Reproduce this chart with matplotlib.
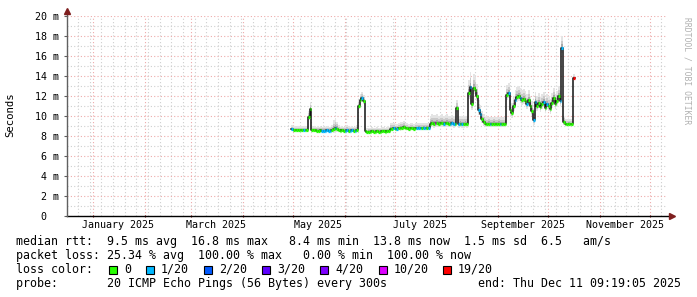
import matplotlib
matplotlib.use("Agg")
import matplotlib.pyplot as plt
import matplotlib.dates as mdates
from matplotlib.patches import Rectangle
import numpy as np
import pandas as pd

# time window of the graph (360 days ending at "end")
end_time = pd.Timestamp("2025-12-11 09:19:05")
start_time = end_time - pd.Timedelta(days=360)

# one median rtt value (ms) per day, starting 2025-04-30
first_day = "2025-04-30"
median_ms = [
    8.7, 8.6, 8.6, 8.6, 8.6, 8.6, 8.6, 8.6, 8.6, 8.6,
    9.9, 10.7, 8.6, 8.6, 8.6, 8.55, 8.55, 8.6, 8.55, 8.55,
    8.55, 8.6, 8.55, 8.55, 8.6, 8.7, 8.8, 8.75, 8.6, 8.55,
    8.6, 8.55, 8.55, 8.6, 8.55, 8.55, 8.6, 8.55, 8.55, 8.6,
    11.0, 11.6, 11.8, 11.5, 8.5, 8.4, 8.45, 8.45, 8.5, 8.45,
    8.45, 8.5, 8.45, 8.45, 8.5, 8.5, 8.45, 8.5, 8.5, 8.75,
    8.75, 8.8, 8.75, 8.75, 8.8, 8.8, 8.85, 8.9, 8.8, 8.8,
    8.75, 8.8, 8.8, 8.75, 8.8, 8.8, 8.85, 8.8, 8.8, 8.85,
    8.8, 8.85, 8.85, 9.25, 9.3, 9.25, 9.3, 9.3, 9.25, 9.3,
    9.3, 9.25, 9.3, 9.3, 9.25, 9.25, 9.3, 9.2, 9.25, 10.8,
    9.2, 9.25, 9.2, 9.2, 9.25, 9.2, 12.3, 12.9, 11.2, 12.8,
    12.6, 12.0, 10.6, 10.2, 9.7, 9.4, 9.25, 9.2, 9.25, 9.2,
    9.2, 9.25, 9.2, 9.2, 9.25, 9.2, 9.2, 9.2, 9.25, 12.1,
    12.3, 10.6, 10.3, 11.0, 11.6, 11.9, 12.0, 11.8, 11.6, 11.7,
    11.5, 11.2, 11.6, 11.0, 10.5, 9.6, 11.4, 11.0, 11.3, 10.9,
    11.2, 11.4, 10.8, 11.2, 11.0, 10.7, 11.3, 11.8, 11.2, 11.5,
    12.0, 11.5, 16.8, 9.4, 9.2, 9.2, 9.25, 9.2, 9.2, 13.8,
]

# upward spread of the smoke (ms) per day
smoke_ms = [
    0.4, 0.4, 0.4, 0.4, 0.4, 0.4, 0.4, 0.4, 0.4, 0.4,
    0.6, 0.7, 0.4, 0.4, 0.4, 0.4, 0.4, 0.4, 0.4, 0.4,
    0.4, 0.4, 0.4, 0.4, 0.5, 0.9, 1.0, 0.7, 0.5, 0.4,
    0.4, 0.4, 0.5, 0.5, 0.5, 0.4, 0.4, 0.4, 0.4, 0.5,
    0.6, 0.6, 0.6, 0.6, 0.4, 0.4, 0.4, 0.4, 0.4, 0.4,
    0.4, 0.4, 0.4, 0.4, 0.4, 0.4, 0.4, 0.4, 0.4, 0.6,
    0.6, 0.5, 0.5, 0.5, 0.5, 0.6, 0.6, 0.6, 0.5, 0.5,
    0.5, 0.5, 0.5, 0.5, 0.5, 0.5, 0.5, 0.5, 0.5, 0.5,
    0.5, 0.5, 0.5, 0.8, 0.9, 0.9, 0.8, 0.9, 0.8, 0.8,
    0.9, 0.8, 0.8, 0.9, 0.8, 0.8, 0.8, 0.8, 0.8, 0.8,
    0.8, 0.8, 0.8, 0.8, 0.8, 0.8, 1.3, 1.5, 1.4, 1.4,
    1.3, 1.2, 1.0, 0.9, 0.8, 0.8, 0.7, 0.7, 0.7, 0.7,
    0.7, 0.7, 0.7, 0.7, 0.7, 0.7, 0.7, 0.7, 0.7, 1.0,
    1.0, 1.0, 1.0, 1.0, 1.0, 1.0, 1.0, 1.0, 1.0, 1.0,
    1.0, 1.0, 1.0, 1.0, 1.0, 1.0, 1.0, 1.0, 1.0, 1.0,
    1.0, 1.0, 1.0, 1.0, 1.0, 1.0, 1.0, 1.0, 1.0, 1.0,
    1.0, 1.0, 1.2, 0.6, 0.5, 0.5, 0.5, 0.5, 0.5, 0.4,
]

# loss class per day (index into loss_labels / loss_colors)
loss_class = [0] * len(median_ms)
for i in [0, 7, 18, 19, 20, 21, 22, 23, 26, 32, 33, 35, 36, 38, 42, 61, 63,
          75, 76, 77, 79, 80, 82, 91, 95, 96, 97, 100, 102, 107, 112, 113,
          119, 125, 130, 134, 137, 141, 145, 146, 151, 153, 161, 162]:
    loss_class[i] = 1
loss_class[86] = 5
loss_class[-1] = 6

loss_labels = ["0", "1/20", "2/20", "3/20", "4/20", "10/20", "19/20"]
loss_colors = ["#26ff00", "#00b8ff", "#0059ff", "#5e00ff", "#7e00ff", "#dd00ff", "#ff0000"]

y_ticks = [0, 2, 4, 6, 8, 10, 12, 14, 16, 18, 20]
y_tick_labels = ["0  "] + [f"{v} m" for v in y_ticks[1:]]
x_label_months = ["2025-01-01", "2025-03-01", "2025-05-01", "2025-07-01", "2025-09-01", "2025-11-01"]
x_labels = ["January 2025", "March 2025", "May 2025", "July 2025", "September 2025", "November 2025"]

legend_lines = [
    "median rtt:  9.5 ms avg  16.8 ms max   8.4 ms min  13.8 ms now  1.5 ms sd  6.5   am/s",
    "packet loss: 25.34 % avg  100.00 % max   0.00 % min  100.00 % now",
]
probe_text = "probe:       20 ICMP Echo Pings (56 Bytes) every 300s"
end_text = "end: Thu Dec 11 09:19:05 2025"

MONO = "DejaVu Sans Mono"
W, H = 697, 297

fig = plt.figure(figsize=(W / 100, H / 100), dpi=100)
fig.patch.set_facecolor("white")
ax = fig.add_axes([67 / W, (H - 216) / H, 600 / W, 200 / H])

dates = pd.date_range(first_day, periods=len(median_ms), freq="D")
x = mdates.date2num(dates)
xe = np.append(x, x[-1] + 1)
med = np.array(median_ms)
up = np.array(smoke_ms)
med_e = np.append(med, med[-1])
up_e = np.append(up, up[-1])

# smoke layers
for scale, col in [(1.0, "#e4e4e4"), (0.6, "#cacaca"), (0.3, "#a8a8a8")]:
    ax.fill_between(xe, med_e - 0.45 * scale * up_e, med_e + scale * up_e,
                    step="post", color=col, linewidth=0, zorder=2)

# median line
ax.step(xe, med_e, where="post", color="#111111", linewidth=1.1, zorder=3)
seg_colors = [loss_colors[c] for c in loss_class]
ax.hlines(med, x, x + 1, colors=seg_colors, linewidth=2.3, zorder=4)

ax.set_xlim(mdates.date2num(start_time), mdates.date2num(end_time))
ax.set_ylim(0, 20)

# grid
ax.xaxis.set_major_locator(mdates.MonthLocator())
ax.xaxis.set_minor_locator(mdates.WeekdayLocator(byweekday=mdates.MO))
ax.xaxis.set_major_formatter(plt.NullFormatter())
ax.set_yticks(y_ticks)
ax.set_yticks(np.arange(1, 20, 2), minor=True)
ax.set_yticklabels(y_tick_labels, fontfamily=MONO, fontsize=7.2)
ax.grid(which="minor", color="#cfcfcf", linestyle=(0, (1, 2)), linewidth=0.8, zorder=1)
ax.grid(which="major", color="#eeaaaa", linestyle=(0, (1, 2)), linewidth=0.8, zorder=1)
ax.set_axisbelow(True)
ax.tick_params(axis="y", which="major", length=2, width=0.8, pad=3.5, color="#606060")
ax.tick_params(axis="y", which="minor", length=0)
ax.tick_params(axis="x", which="major", length=2, width=0.8, direction="inout", color="#800000")
ax.tick_params(axis="x", which="minor", length=0)

for s in ax.spines.values():
    s.set_visible(False)
ax.plot([0, 1.004], [0, 0], transform=ax.transAxes, color="black", linewidth=1.0, clip_on=False, zorder=5)
ax.plot([0, 0], [0, 1.015], transform=ax.transAxes, color="#606060", linewidth=1.0, clip_on=False, zorder=5)
ax.plot([1.008], [0], marker=">", markersize=4, color="#7f1f1f", transform=ax.transAxes, clip_on=False, zorder=6)
ax.plot([0], [1.025], marker="^", markersize=4, color="#7f1f1f", transform=ax.transAxes, clip_on=False, zorder=6)

for m, lab in zip(x_label_months, x_labels):
    pos = mdates.date2num(pd.Timestamp(m) + pd.Timedelta(days=15))
    ax.text(pos, -0.045, lab, transform=ax.get_xaxis_transform(), ha="center", va="center",
            fontfamily=MONO, fontsize=7.2)

fig.text(10.5 / W, 1 - 115 / H, "Seconds", rotation=90, ha="center", va="center",
         fontfamily=MONO, fontsize=7.7)
fig.text(687 / W, 1 - 71 / H, "RRDTOOL / TOBI OETIKER", rotation=270, ha="center", va="center",
         fontfamily=MONO, fontsize=5.8, color="#b0b0b0")

fs = 8.37
fig.text(16 / W, 1 - 241.5 / H, legend_lines[0], ha="left", va="center", fontfamily=MONO, fontsize=fs)
fig.text(16 / W, 1 - 255.5 / H, legend_lines[1], ha="left", va="center", fontfamily=MONO, fontsize=fs)
fig.text(16 / W, 1 - 269.5 / H, "loss color:", ha="left", va="center", fontfamily=MONO, fontsize=fs)
box_x = [108.5, 145.5, 203.5, 261.5, 319.5, 378.5, 442.5]
for bx, lab, col in zip(box_x, loss_labels, loss_colors):
    fig.patches.append(Rectangle((bx / W, 1 - 273.5 / H), 8 / W, 8 / H, transform=fig.transFigure,
                                 facecolor=col, edgecolor="black", linewidth=0.8))
    fig.text((bx + 15.5) / W, 1 - 269.5 / H, lab, ha="left", va="center", fontfamily=MONO, fontsize=fs)
fig.text(16 / W, 1 - 283.5 / H, probe_text, ha="left", va="center", fontfamily=MONO, fontsize=fs)
fig.text(478 / W, 1 - 283.5 / H, end_text, ha="left", va="center", fontfamily=MONO, fontsize=fs)

fig.savefig("out.png", dpi=100, facecolor="white")
